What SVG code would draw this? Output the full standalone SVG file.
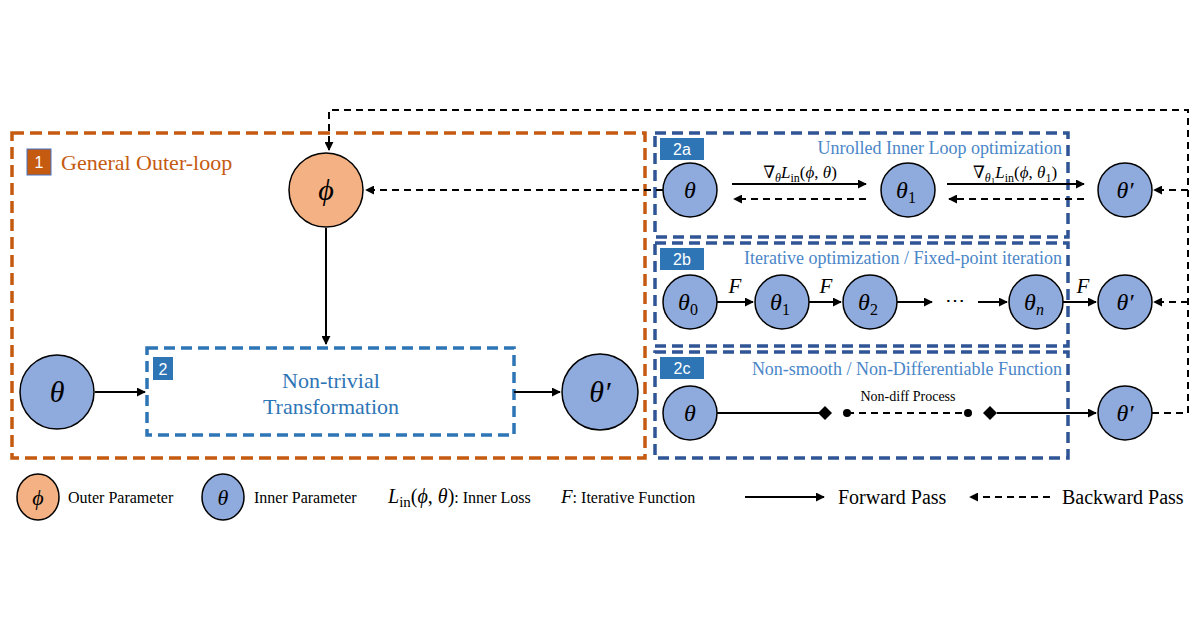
<svg xmlns="http://www.w3.org/2000/svg" width="1200" height="630" viewBox="0 0 1200 630">
<defs>
<marker id="ah" viewBox="0 0 10 10" refX="9" refY="5" markerWidth="4.5" markerHeight="4.5" orient="auto-start-reverse"><path d="M0,0L10,5L0,10z" fill="#000"/></marker>
<style>
.ob{fill:none;stroke:#C55A11;stroke-width:3.5;stroke-dasharray:12 6}
.lb{fill:none;stroke:#2E75B6;stroke-width:3.5;stroke-dasharray:11 6}
.db{fill:none;stroke:#2F5597;stroke-width:3.5;stroke-dasharray:11 6}
.bc{fill:#8FAADC;stroke:#000;stroke-width:1.5}
.oc{fill:#F4B183;stroke:#000;stroke-width:1.5}
.sl{fill:none;stroke:#000;stroke-width:2}
.dl{fill:none;stroke:#000;stroke-width:2;stroke-dasharray:7 5}
.m{font-family:"Liberation Serif","DejaVu Serif",serif;font-style:italic;fill:#000}
.mu{font-style:normal}
.t{font-family:"Liberation Serif",serif;fill:#000}
.tt{font-family:"Liberation Serif",serif;fill:#4A86C8;font-size:18px}
.tag{font-family:"Liberation Sans",sans-serif;fill:#fff;font-size:16px}
</style>
</defs>
<rect width="1200" height="630" fill="#fff"/>

<g id="outer-box">
<rect class="ob" x="12" y="133" width="633" height="325"/>
<rect x="27" y="149" width="24" height="26" fill="#C55A11" stroke="#4472C4" stroke-width="1"/>
<text x="39" y="168" text-anchor="middle" class="tag">1</text>
<text x="61" y="170" class="t" font-size="22" style="fill:#C55A11">General Outer-loop</text>
</g>

<g id="box2">
<rect class="lb" x="147" y="348" width="367" height="87"/>
<rect x="153" y="357" width="20" height="23" fill="#2E75B6"/>
<text x="163" y="375" text-anchor="middle" class="tag" font-size="15">2</text>
<text x="331" y="388" text-anchor="middle" class="t" font-size="22" style="fill:#2E75B6">Non-trivial</text>
<text x="331" y="414" text-anchor="middle" class="t" font-size="22" style="fill:#2E75B6">Transformation</text>
</g>

<g id="box2a">
<rect class="db" x="655" y="133" width="413" height="104"/>
<rect x="660" y="138" width="44" height="22" fill="#2E75B6"/>
<text x="682" y="155" text-anchor="middle" class="tag">2a</text>
<text x="1062" y="154" text-anchor="end" class="tt">Unrolled Inner Loop optimization</text>
</g>
<g id="box2b">
<rect class="db" x="655" y="243" width="413" height="103"/>
<rect x="660" y="248" width="44" height="22" fill="#2E75B6"/>
<text x="682" y="265" text-anchor="middle" class="tag">2b</text>
<text x="1062" y="264" text-anchor="end" class="tt">Iterative optimization / Fixed-point iteration</text>
</g>
<g id="box2c">
<rect class="db" x="655" y="352" width="413" height="106"/>
<rect x="660" y="357" width="44" height="22" fill="#2E75B6"/>
<text x="682" y="374" text-anchor="middle" class="tag">2c</text>
<text x="1062" y="375" text-anchor="end" class="tt">Non-smooth / Non-Differentiable Function</text>
</g>

<g id="connectors">
<path class="sl" d="M326,228V344" marker-end="url(#ah)"/>
<path class="sl" d="M95,392H145" marker-end="url(#ah)"/>
<path class="sl" d="M514,392H560" marker-end="url(#ah)"/>
<path class="dl" d="M663,190H366" marker-end="url(#ah)"/>
<path class="dl" d="M1152,413H1188V110H329V150" marker-end="url(#ah)"/>
<path class="dl" d="M1188,190H1154" marker-end="url(#ah)"/>
<path class="dl" d="M1188,302H1154" marker-end="url(#ah)"/>
<path class="sl" d="M732,184H866" marker-end="url(#ah)"/>
<path class="dl" d="M866,199H734" marker-end="url(#ah)"/>
<path class="sl" d="M947,184H1084" marker-end="url(#ah)"/>
<path class="dl" d="M1084,199H949" marker-end="url(#ah)"/>
<path class="sl" d="M717,302H753" marker-end="url(#ah)"/>
<path class="sl" d="M809,302H841" marker-end="url(#ah)"/>
<path class="sl" d="M897,302H932" marker-end="url(#ah)"/>
<path class="sl" d="M978,302H1007" marker-end="url(#ah)"/>
<path class="sl" d="M1063,302H1096" marker-end="url(#ah)"/>
<path class="sl" d="M717,413H822"/>
<path d="M818,413l7,-7l7,7l-7,7z" fill="#000"/>
<circle cx="847" cy="413" r="4" fill="#000"/>
<path class="dl" d="M847,413H968"/>
<circle cx="968" cy="413" r="4" fill="#000"/>
<path d="M983,413l7,-7l7,7l-7,7z" fill="#000"/>
<path class="sl" d="M997,413H1096" marker-end="url(#ah)"/>
</g>

<g id="labels">
<text x="800" y="178" text-anchor="middle" class="m" font-size="17">∇<tspan font-size="12" dy="4">θ</tspan><tspan dy="-4">L</tspan><tspan class="mu" font-size="12" dy="4">in</tspan><tspan class="mu" dy="-4">(</tspan>ϕ<tspan class="mu">, </tspan>θ<tspan class="mu">)</tspan></text>
<text x="1015" y="178" text-anchor="middle" class="m" font-size="17">∇<tspan font-size="12" dy="4">θ</tspan><tspan class="mu" font-size="9" dy="2">1</tspan><tspan dy="-6">L</tspan><tspan class="mu" font-size="12" dy="4">in</tspan><tspan class="mu" dy="-4">(</tspan>ϕ<tspan class="mu">, </tspan>θ<tspan class="mu" font-size="12" dy="4">1</tspan><tspan class="mu" dy="-4">)</tspan></text>
<text x="735" y="293" text-anchor="middle" class="m" font-size="21">F</text>
<text x="826" y="293" text-anchor="middle" class="m" font-size="21">F</text>
<text x="1083" y="293" text-anchor="middle" class="m" font-size="21">F</text>
<text x="955" y="307" text-anchor="middle" class="t" font-size="20">⋯</text>
<text x="908" y="401" text-anchor="middle" class="t" font-size="14">Non-diff Process</text>
</g>

<g id="phi"><circle class="oc" cx="326" cy="190" r="37"/><text x="326" y="200" text-anchor="middle" class="m" font-size="30">ϕ</text></g>
<g id="theta-in"><circle class="bc" cx="57" cy="392" r="37"/><text x="57" y="402" text-anchor="middle" class="m" font-size="30">θ</text></g>
<g id="theta-out"><circle class="bc" cx="600" cy="392" r="38"/><text x="600" y="402" text-anchor="middle" class="m" font-size="30">θ′</text></g>

<g id="a-theta"><circle class="bc" cx="690" cy="190" r="27"/><text x="690" y="198" text-anchor="middle" class="m" font-size="24">θ</text></g>
<g id="a-theta1"><circle class="bc" cx="908" cy="190" r="27"/><text x="906" y="198" text-anchor="middle" class="m" font-size="24">θ<tspan class="mu" font-size="16" dy="5">1</tspan></text></g>
<g id="a-thetap"><circle class="bc" cx="1125" cy="190" r="27"/><text x="1125" y="198" text-anchor="middle" class="m" font-size="24">θ′</text></g>

<g id="b-theta0"><circle class="bc" cx="690" cy="302" r="27"/><text x="688" y="310" text-anchor="middle" class="m" font-size="24">θ<tspan class="mu" font-size="16" dy="5">0</tspan></text></g>
<g id="b-theta1"><circle class="bc" cx="782" cy="302" r="27"/><text x="780" y="310" text-anchor="middle" class="m" font-size="24">θ<tspan class="mu" font-size="16" dy="5">1</tspan></text></g>
<g id="b-theta2"><circle class="bc" cx="870" cy="302" r="27"/><text x="868" y="310" text-anchor="middle" class="m" font-size="24">θ<tspan class="mu" font-size="16" dy="5">2</tspan></text></g>
<g id="b-thetan"><circle class="bc" cx="1036" cy="302" r="27"/><text x="1034" y="310" text-anchor="middle" class="m" font-size="24">θ<tspan font-size="16" dy="5">n</tspan></text></g>
<g id="b-thetap"><circle class="bc" cx="1125" cy="302" r="27"/><text x="1125" y="310" text-anchor="middle" class="m" font-size="24">θ′</text></g>

<g id="c-theta"><circle class="bc" cx="690" cy="413" r="27"/><text x="690" y="421" text-anchor="middle" class="m" font-size="24">θ</text></g>
<g id="c-thetap"><circle class="bc" cx="1125" cy="413" r="27"/><text x="1125" y="421" text-anchor="middle" class="m" font-size="24">θ′</text></g>

<g id="legend">
<ellipse class="oc" cx="38" cy="497" rx="21" ry="23"/><text x="38" y="505" text-anchor="middle" class="m" font-size="22">ϕ</text>
<text x="68" y="503" class="t" font-size="16">Outer Parameter</text>
<ellipse class="bc" cx="223" cy="497" rx="21" ry="23"/><text x="223" y="505" text-anchor="middle" class="m" font-size="22">θ</text>
<text x="254" y="503" class="t" font-size="16">Inner Parameter</text>
<text x="388" y="503" class="m" font-size="20">L<tspan class="mu" font-size="15" dy="4">in</tspan><tspan class="mu" dy="-4">(</tspan>ϕ<tspan class="mu">, </tspan>θ<tspan class="mu">)</tspan><tspan class="mu" font-size="16">: Inner Loss</tspan></text>
<text x="561" y="503" class="m" font-size="19">F<tspan class="mu" font-size="16">: Iterative Function</tspan></text>
<path class="sl" d="M745,497H824" marker-end="url(#ah)"/>
<text x="838" y="504" class="t" font-size="20">Forward Pass</text>
<path class="dl" d="M1050,497H970" marker-end="url(#ah)"/>
<text x="1062" y="504" class="t" font-size="20">Backward Pass</text>
</g>
</svg>
